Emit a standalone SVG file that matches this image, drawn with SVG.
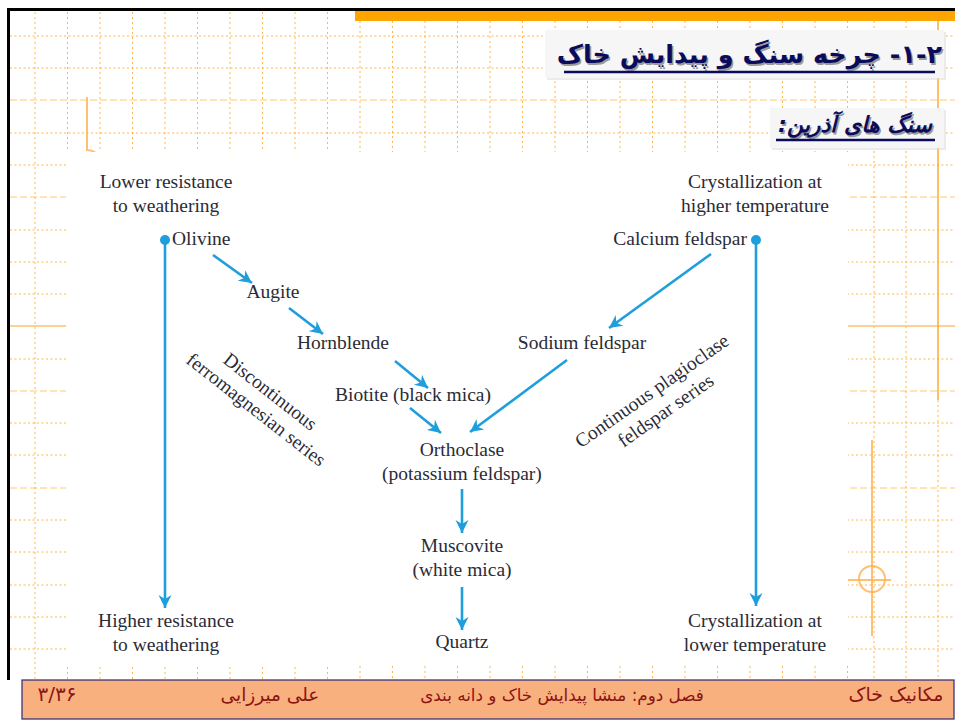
<svg xmlns="http://www.w3.org/2000/svg" width="955" height="720" viewBox="0 0 955 720">
<defs>
<style>
.gv{stroke:#FFA31A;stroke-width:1;stroke-dasharray:2 3;opacity:.8}
.gh{stroke:#FFA31A;stroke-width:1;stroke-dasharray:2 2.5;opacity:.8}
.gh2{stroke:#FFA31A;stroke-width:1;stroke-dasharray:7 3;opacity:.6}
.deco{stroke:#FFB24D;stroke-width:2;fill:none;opacity:.8}
.t{font-family:"Liberation Serif","Times New Roman",serif;font-size:19.5px;fill:#2b2b36;text-anchor:middle}
.ts{text-anchor:start}
.te{text-anchor:end}
.fa{font-family:"DejaVu Sans",sans-serif;direction:rtl;unicode-bidi:bidi-override}
.ft{font-family:"DejaVu Sans",sans-serif;fill:#8B1414;text-anchor:middle}
.ar{stroke:#1E9FDC;stroke-width:2.6;fill:none;marker-end:url(#ah)}
</style>
<marker id="ah" markerUnits="userSpaceOnUse" viewBox="-14 -7 15 14" refX="0" refY="0" markerWidth="15" markerHeight="14" orient="auto">
<path d="M0,0 L-13,-6.5 L-9,0 L-13,6.5 Z" fill="#1E9FDC"/>
</marker>
</defs>
<rect width="955" height="720" fill="#ffffff"/>
<g id="grid">
<g id="vlines">
<line class="gv" x1="35" y1="12" x2="35" y2="680"/>
<line class="gv" x1="67.5" y1="12" x2="67.5" y2="680"/>
<line class="gv" x1="100" y1="12" x2="100" y2="680"/>
<line class="gv" x1="132.5" y1="12" x2="132.5" y2="680"/>
<line class="gv" x1="165" y1="12" x2="165" y2="680"/>
<line class="gv" x1="197.5" y1="12" x2="197.5" y2="680"/>
<line class="gv" x1="230" y1="12" x2="230" y2="680"/>
<line class="gv" x1="262.5" y1="12" x2="262.5" y2="680"/>
<line class="gv" x1="295" y1="12" x2="295" y2="680"/>
<line class="gv" x1="327.5" y1="12" x2="327.5" y2="680"/>
<line class="gv" x1="360" y1="21" x2="360" y2="680"/>
<line class="gv" x1="392.5" y1="21" x2="392.5" y2="680"/>
<line class="gv" x1="425" y1="21" x2="425" y2="680"/>
<line class="gv" x1="457.5" y1="21" x2="457.5" y2="680"/>
<line class="gv" x1="490" y1="21" x2="490" y2="680"/>
<line class="gv" x1="522.5" y1="21" x2="522.5" y2="680"/>
<line class="gv" x1="555" y1="21" x2="555" y2="680"/>
<line class="gv" x1="587.5" y1="21" x2="587.5" y2="680"/>
<line class="gv" x1="620" y1="21" x2="620" y2="680"/>
<line class="gv" x1="652.5" y1="21" x2="652.5" y2="680"/>
<line class="gv" x1="685" y1="21" x2="685" y2="680"/>
<line class="gv" x1="717.5" y1="21" x2="717.5" y2="680"/>
<line class="gv" x1="750" y1="21" x2="750" y2="680"/>
<line class="gv" x1="782.5" y1="21" x2="782.5" y2="680"/>
<line class="gv" x1="815" y1="21" x2="815" y2="680"/>
<line class="gv" x1="847.5" y1="21" x2="847.5" y2="680"/>
<line class="gv" x1="874" y1="21" x2="874" y2="680"/>
<line class="gv" x1="906" y1="21" x2="906" y2="680"/>
<line class="gv" x1="938" y1="400" x2="938" y2="680"/>
</g>
<g id="hlines">
<line class="gh" x1="10" y1="36" x2="955" y2="36"/>
<line class="gh" x1="10" y1="68" x2="955" y2="68"/>
<line class="gh2" x1="10" y1="100" x2="955" y2="100"/>
<line class="gh" x1="10" y1="133" x2="955" y2="133"/>
<line class="gh" x1="10" y1="165" x2="955" y2="165"/>
<line class="gh2" x1="10" y1="197" x2="955" y2="197"/>
<line class="gh" x1="10" y1="230" x2="955" y2="230"/>
<line class="gh" x1="10" y1="262" x2="955" y2="262"/>
<line class="gh" x1="10" y1="294" x2="955" y2="294"/>
<line class="gh" x1="10" y1="359" x2="955" y2="359"/>
<line class="gh2" x1="10" y1="391" x2="955" y2="391"/>
<line class="gh" x1="10" y1="423" x2="955" y2="423"/>
<line class="gh" x1="10" y1="455" x2="955" y2="455"/>
<line class="gh2" x1="10" y1="488" x2="955" y2="488"/>
<line class="gh" x1="10" y1="520" x2="955" y2="520"/>
<line class="gh" x1="10" y1="552" x2="955" y2="552"/>
<line class="gh" x1="10" y1="585" x2="955" y2="585"/>
<line class="gh" x1="10" y1="617" x2="955" y2="617"/>
<line class="gh" x1="10" y1="649" x2="955" y2="649"/>
</g>
<line x1="10" y1="326" x2="955" y2="326" stroke="#FFB24D" stroke-width="1.5" opacity=".8"/>
<line x1="938" y1="21" x2="938" y2="400" stroke="#FFA31A" stroke-width="1.5" opacity=".9"/>
<path class="deco" d="M87,97 V150 Q92,150 96,153"/>
<line x1="872" y1="440" x2="872" y2="636" class="deco" stroke-width="1.5"/>
<line x1="848" y1="580" x2="891" y2="580" class="deco" stroke-width="1.5"/>
<circle cx="872" cy="579" r="13" class="deco" stroke-width="1.5"/>
</g>
<g id="frame">
<rect x="355" y="11" width="600" height="10" fill="#FFA500"/>
<rect x="8" y="8" width="947" height="3" fill="#000"/>
<rect x="7" y="8" width="3" height="672" fill="#000"/>
</g>
<g id="title">
<rect x="547" y="32" width="399" height="48" fill="#d8d8d8" opacity=".5"/>
<rect x="545" y="30" width="399" height="48" fill="#f6f6f6"/>
<text class="fa" x="751" y="64.5" font-size="25.5" font-weight="bold" fill="#9a9a9a" text-anchor="middle">۲-۱- چرخه سنگ و پیدایش خاک</text>
<text class="fa" x="749.5" y="63" font-size="25.5" font-weight="bold" fill="#0b0b5c" text-anchor="middle">۲-۱- چرخه سنگ و پیدایش خاک</text>
<line x1="564" y1="72" x2="935" y2="72" stroke="#0b0b5c" stroke-width="2.5"/>
</g>
<g id="subtitle">
<rect x="772" y="110" width="174" height="40" fill="#d8d8d8" opacity=".5"/>
<rect x="770" y="108" width="174" height="40" fill="#f6f6f6"/>
<text class="fa" x="856.5" y="133.5" font-size="22" font-weight="bold" font-style="italic" fill="#9a9a9a" text-anchor="middle">سنگ های آذرین:</text>
<text class="fa" x="855" y="132" font-size="22" font-weight="bold" font-style="italic" fill="#0b0b5c" text-anchor="middle">سنگ های آذرین:</text>
<line x1="776" y1="140" x2="935" y2="140" stroke="#0b0b5c" stroke-width="2.5"/>
</g>
<rect id="diagram-bg" x="66" y="152" width="782" height="513" fill="#ffffff"/>
<g id="connectors">
<line class="ar" x1="165" y1="240" x2="165" y2="608"/>
<line class="ar" x1="756" y1="240" x2="756" y2="606"/>
<line class="ar" x1="213" y1="255" x2="252" y2="283"/>
<line class="ar" x1="289" y1="308" x2="323" y2="334"/>
<line class="ar" x1="395" y1="361" x2="428" y2="388"/>
<line class="ar" x1="410" y1="408" x2="441" y2="433"/>
<line class="ar" x1="567" y1="360" x2="470" y2="432"/>
<line class="ar" x1="711" y1="254" x2="609" y2="328"/>
<line class="ar" x1="462" y1="489" x2="462" y2="533"/>
<line class="ar" x1="462" y1="587" x2="462" y2="630"/>
<circle cx="165" cy="240" r="5" fill="#1E9FDC"/>
<circle cx="756" cy="240" r="5" fill="#1E9FDC"/>
</g>
<g id="lower-resistance"><text class="t" x="166" y="188">Lower resistance</text><text class="t" x="166" y="212">to weathering</text></g>
<g id="higher-temp"><text class="t" x="755" y="188">Crystallization at</text><text class="t" x="755" y="212">higher temperature</text></g>
<g id="olivine"><text class="t ts" x="172" y="245">Olivine</text></g>
<g id="calcium"><text class="t te" x="747" y="245">Calcium feldspar</text></g>
<g id="augite"><text class="t" x="273" y="298">Augite</text></g>
<g id="hornblende"><text class="t" x="343" y="349">Hornblende</text></g>
<g id="sodium"><text class="t" x="582" y="349">Sodium feldspar</text></g>
<g id="biotite"><text class="t" x="413" y="401">Biotite (black mica)</text></g>
<g id="orthoclase"><text class="t" x="462" y="456">Orthoclase</text><text class="t" x="462" y="480">(potassium feldspar)</text></g>
<g id="muscovite"><text class="t" x="462" y="552">Muscovite</text><text class="t" x="462" y="576">(white mica)</text></g>
<g id="quartz"><text class="t" x="462" y="648">Quartz</text></g>
<g id="higher-resistance"><text class="t" x="166" y="627">Higher resistance</text><text class="t" x="166" y="651">to weathering</text></g>
<g id="lower-temp"><text class="t" x="755" y="627">Crystallization at</text><text class="t" x="755" y="651">lower temperature</text></g>
<g id="discontinuous" transform="translate(263,401) rotate(38)"><text class="t" x="0" y="-5.5">Discontinuous</text><text class="t" x="0" y="17.5">ferromagnesian series</text></g>
<g id="continuous" transform="translate(659,401) rotate(-35)"><text class="t" x="0" y="-6">Continuous plagioclase</text><text class="t" x="0" y="18">feldspar series</text></g>
<g id="footer">
<rect x="22" y="680" width="932" height="39" fill="#F9B07F" stroke="#2a2a7a" stroke-width="1.2"/>
<text class="ft" x="57" y="701" font-size="20">۳/۳۶</text>
<text class="ft fa" x="270" y="701" font-size="18.5">علی میرزایی</text>
<text class="ft fa" x="562" y="701" font-size="16.8">فصل دوم: منشا پیدایش خاک و دانه بندی</text>
<text class="ft fa" x="896" y="701" font-size="19">مکانیک خاک</text>
</g>
</svg>
